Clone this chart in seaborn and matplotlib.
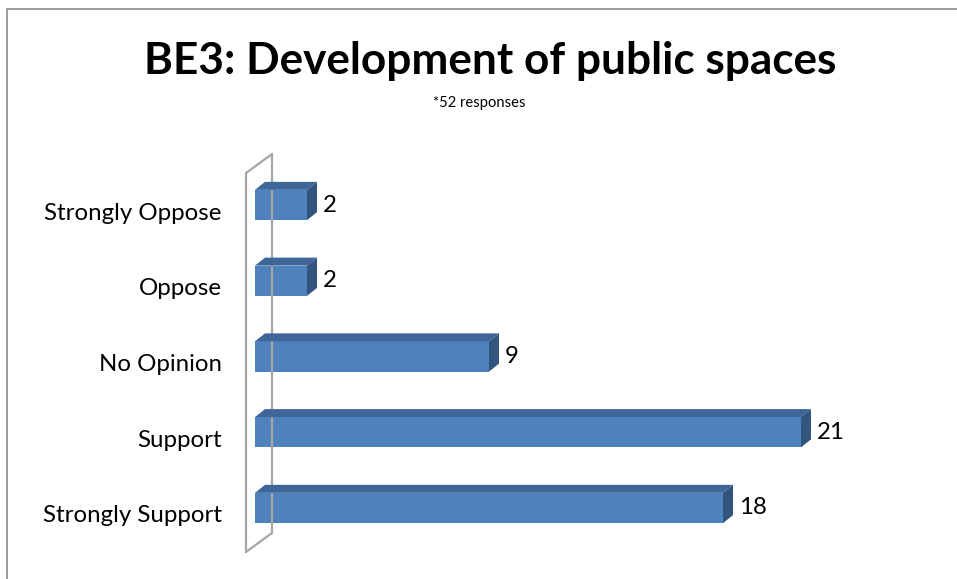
import matplotlib
matplotlib.use("Agg")
import matplotlib.pyplot as plt
from matplotlib.patches import Polygon
from matplotlib.lines import Line2D
from matplotlib.transforms import IdentityTransform, ScaledTranslation
import seaborn as sns
import pandas as pd

categories = ["Strongly Oppose", "Oppose", "No Opinion", "Support", "Strongly Support"]
counts = [2, 2, 9, 21, 18]
title = "BE3: Development of public spaces"
subtitle = "*52 responses"

FRONT = "#4F81BD"
TOP = "#3F6698"
SIDE = "#32557F"
WALL = "#A6A6A6"
FONT = "Lato"

sns.set_theme(style="white")
plt.rcParams["font.family"] = [FONT, "DejaVu Sans"]

W, H = 957, 579
fig = plt.figure(figsize=(W / 100, H / 100), dpi=100)

# axes placed in pixel terms: value 0 at x=255, 26 px per unit
x0_px, px_per_unit = 255, 26
xmax = 25
ax_left = x0_px / W
ax_width = xmax * px_per_unit / W
top_px, bot_px = 148.2, 564.8
ax = fig.add_axes([ax_left, (H - bot_px) / H, ax_width, (bot_px - top_px) / H])

df = pd.DataFrame({"category": categories, "count": counts})
sns.barplot(data=df, x="count", y="category", orient="h", color=FRONT,
            saturation=1, width=0.4, ax=ax, edgecolor="none", zorder=3)
ax.set_xlim(0, xmax)
ax.set_ylim(4.75, -0.75)
ax.set_xlabel("")
ax.set_ylabel("")
ax.set_xticks([])
for s in ax.spines.values():
    s.set_visible(False)
ax.tick_params(axis="y", length=0, pad=24, labelsize=17.3, labelcolor="black")
# category labels sit slightly below the bar centres
shift = ScaledTranslation(0, -6 / 100, fig.dpi_scale_trans)
for lbl in ax.get_yticklabels():
    lbl.set_transform(lbl.get_transform() + shift)

fig.canvas.draw()

# 3D-style top and side faces built from each bar's geometry
dx, dy = 10, 8
for bar in ax.patches:
    x, y = bar.get_x(), bar.get_y()
    w, h = bar.get_width(), bar.get_height()
    (xl, yt), (xr, yb) = ax.transData.transform([(x, y), (x + w, y + h)])
    ytop, ybot = max(yt, yb), min(yt, yb)
    top_face = Polygon([(xl, ytop), (xr, ytop), (xr + dx, ytop + dy), (xl + dx, ytop + dy)],
                       closed=True, facecolor=TOP, edgecolor="none",
                       transform=IdentityTransform(), zorder=4)
    side_face = Polygon([(xr, ybot), (xr, ytop), (xr + dx, ytop + dy), (xr + dx, ybot + dy)],
                        closed=True, facecolor=SIDE, edgecolor="none",
                        transform=IdentityTransform(), zorder=4)
    fig.add_artist(top_face)
    fig.add_artist(side_face)

# value labels
for i, v in enumerate(counts):
    ax.annotate(str(v), xy=(v, i), xytext=(dx + 6, 0), textcoords="offset pixels",
                ha="left", va="center", fontsize=17.3, color="black",
                annotation_clip=False)

# back wall outline
def px(x, y):
    return (x, H - y)

wall_pts = [px(246, 552), px(246, 173), px(272, 154), px(272, 533), px(246, 552)]
fig.add_artist(Line2D([p[0] for p in wall_pts], [p[1] for p in wall_pts],
                      color=WALL, lw=1.6, transform=IdentityTransform(), zorder=1))

# chart frame
fig.add_artist(Line2D([7, 7, W + 5], [-5, H - 9, H - 9], color="#8C8C8C", lw=1.2,
                      transform=IdentityTransform()))

fig.text(490 / W, 1 - 61 / H, title, ha="center", va="center",
         fontsize=31.8, fontweight="bold", color="black")
fig.text(479 / W, 1 - 103 / H, subtitle, ha="center", va="center",
         fontsize=10.6, color="black")

fig.savefig("out.png", dpi=100)
